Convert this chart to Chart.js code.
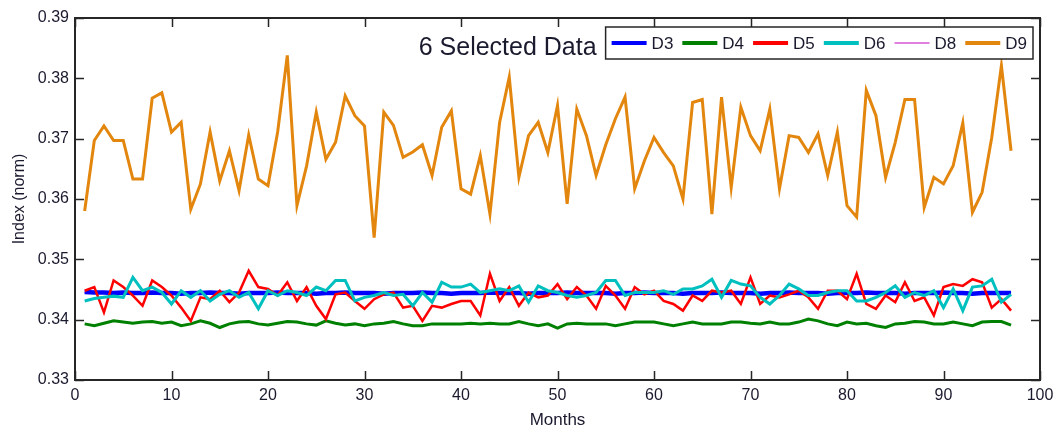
<!DOCTYPE html>
<html>
<head>
<meta charset="utf-8">
<title>6 Selected Data</title>
<script src="https://cdn.jsdelivr.net/npm/chart.js@4.4.1/dist/chart.umd.min.js"></script>
<style>
  html, body { margin: 0; padding: 0; background: #fff; }
  #wrap { width: 1054px; height: 429px; }
</style>
</head>
<body>
<div id="wrap"><canvas id="chart" width="1054" height="429"></canvas></div>
<script>
// Months on the x axis (1..97)
const months = Array.from({ length: 97 }, (_, i) => i + 1);

const xTicks = [0, 10, 20, 30, 40, 50, 60, 70, 80, 90, 100];
const yTicks = [0.33, 0.34, 0.35, 0.36, 0.37, 0.38, 0.39];

const seriesNames = ['D3', 'D4', 'D5', 'D6', 'D8', 'D9'];
const chartTitle = '6 Selected Data';

// Values
const d3 = [0.3446, 0.3445, 0.3445, 0.3444, 0.3445, 0.3444, 0.3444, 0.3445, 0.3444, 0.3444,
  0.3443, 0.3444, 0.3444, 0.3445, 0.3444, 0.3444, 0.3443, 0.3444, 0.3444, 0.3444,
  0.3445, 0.3444, 0.3444, 0.3444, 0.3443, 0.3444, 0.3444, 0.3445, 0.3444, 0.3444,
  0.3444, 0.3443, 0.3444, 0.3444, 0.3444, 0.3445, 0.3444, 0.3444, 0.3443, 0.3444,
  0.3444, 0.3444, 0.3445, 0.3444, 0.3444, 0.3444, 0.3443, 0.3444, 0.3444, 0.3444,
  0.3445, 0.3444, 0.3444, 0.3444, 0.3444, 0.3443, 0.3444, 0.3444, 0.3445, 0.3444,
  0.3444, 0.3444, 0.3443, 0.3444, 0.3444, 0.3444, 0.3445, 0.3444, 0.3444, 0.3444,
  0.3443, 0.3444, 0.3444, 0.3445, 0.3444, 0.3444, 0.3444, 0.3443, 0.3444, 0.3444,
  0.3444, 0.3445, 0.3444, 0.3444, 0.3444, 0.3443, 0.3444, 0.3444, 0.3444, 0.3445,
  0.3444, 0.3444, 0.3443, 0.3444, 0.3444, 0.3444, 0.3444];

const d4 = [0.3393, 0.3390, 0.3394, 0.3398, 0.3396, 0.3394, 0.3396, 0.3397, 0.3394, 0.3396,
  0.3390, 0.3393, 0.3398, 0.3394, 0.3387, 0.3393, 0.3396, 0.3397, 0.3393, 0.3391,
  0.3394, 0.3397, 0.3396, 0.3393, 0.3391, 0.3398, 0.3394, 0.3391, 0.3393, 0.3390,
  0.3393, 0.3394, 0.3397, 0.3393, 0.3390, 0.3390, 0.3393, 0.3393, 0.3393, 0.3393,
  0.3394, 0.3393, 0.3394, 0.3393, 0.3393, 0.3397, 0.3393, 0.3390, 0.3393, 0.3386,
  0.3393, 0.3394, 0.3393, 0.3393, 0.3393, 0.3390, 0.3393, 0.3396, 0.3396, 0.3396,
  0.3393, 0.3390, 0.3393, 0.3396, 0.3393, 0.3393, 0.3393, 0.3396, 0.3396, 0.3394,
  0.3393, 0.3396, 0.3393, 0.3393, 0.3396, 0.3401, 0.3398, 0.3393, 0.3390, 0.3396,
  0.3393, 0.3394, 0.3390, 0.3387, 0.3393, 0.3394, 0.3397, 0.3396, 0.3393, 0.3393,
  0.3396, 0.3393, 0.3390, 0.3396, 0.3397, 0.3397, 0.3391];

const d5 = [0.3448, 0.3454, 0.3412, 0.3465, 0.3454, 0.3440, 0.3423, 0.3465, 0.3454, 0.3440,
  0.3420, 0.3398, 0.3437, 0.3434, 0.3448, 0.3429, 0.3445, 0.3481, 0.3454, 0.3451,
  0.3440, 0.3462, 0.3431, 0.3454, 0.3423, 0.3401, 0.3442, 0.3445, 0.3431, 0.3418,
  0.3434, 0.3442, 0.3445, 0.3420, 0.3423, 0.3398, 0.3423, 0.3420, 0.3426, 0.3431,
  0.3431, 0.3407, 0.3476, 0.3431, 0.3454, 0.3423, 0.3445, 0.3437, 0.3440, 0.3459,
  0.3434, 0.3454, 0.3440, 0.3418, 0.3456, 0.3440, 0.3418, 0.3454, 0.3442, 0.3448,
  0.3431, 0.3426, 0.3415, 0.3440, 0.3431, 0.3448, 0.3445, 0.3448, 0.3426, 0.3470,
  0.3426, 0.3440, 0.3437, 0.3442, 0.3448, 0.3437, 0.3418, 0.3448, 0.3448, 0.3434,
  0.3476, 0.3426, 0.3418, 0.3440, 0.3429, 0.3462, 0.3431, 0.3437, 0.3407, 0.3454,
  0.3459, 0.3456, 0.3467, 0.3462, 0.3420, 0.3434, 0.3415];

const d6 = [0.3431, 0.3435, 0.3437, 0.3439, 0.3437, 0.3470, 0.3448, 0.3454, 0.3445, 0.3426,
  0.3448, 0.3437, 0.3448, 0.3431, 0.3442, 0.3448, 0.3437, 0.3445, 0.3418, 0.3448,
  0.3440, 0.3448, 0.3445, 0.3440, 0.3454, 0.3448, 0.3465, 0.3465, 0.3431, 0.3437,
  0.3440, 0.3445, 0.3440, 0.3442, 0.3423, 0.3445, 0.3429, 0.3462, 0.3454, 0.3454,
  0.3459, 0.3445, 0.3448, 0.3451, 0.3448, 0.3456, 0.3429, 0.3456, 0.3448, 0.3445,
  0.3440, 0.3437, 0.3440, 0.3445, 0.3465, 0.3465, 0.3440, 0.3445, 0.3445, 0.3445,
  0.3448, 0.3442, 0.3451, 0.3451, 0.3456, 0.3467, 0.3437, 0.3465, 0.3459, 0.3456,
  0.3437, 0.3426, 0.3440, 0.3459, 0.3451, 0.3440, 0.3440, 0.3445, 0.3448, 0.3448,
  0.3431, 0.3431, 0.3437, 0.3445, 0.3456, 0.3437, 0.3445, 0.3440, 0.3448, 0.3420,
  0.3451, 0.3415, 0.3454, 0.3456, 0.3467, 0.3429, 0.3442];

// D8 sits under D3 and is hidden by it
const d8 = [0.3445, 0.3445, 0.3444, 0.3444, 0.3445, 0.3444, 0.3444, 0.3444, 0.3444, 0.3444,
  0.3444, 0.3444, 0.3444, 0.3445, 0.3444, 0.3444, 0.3444, 0.3444, 0.3444, 0.3444,
  0.3444, 0.3444, 0.3444, 0.3444, 0.3444, 0.3444, 0.3444, 0.3444, 0.3444, 0.3444,
  0.3444, 0.3444, 0.3444, 0.3444, 0.3444, 0.3444, 0.3444, 0.3444, 0.3444, 0.3444,
  0.3444, 0.3444, 0.3444, 0.3444, 0.3444, 0.3444, 0.3444, 0.3444, 0.3444, 0.3444,
  0.3444, 0.3444, 0.3444, 0.3444, 0.3444, 0.3444, 0.3444, 0.3444, 0.3444, 0.3444,
  0.3444, 0.3444, 0.3444, 0.3444, 0.3444, 0.3444, 0.3444, 0.3444, 0.3444, 0.3444,
  0.3444, 0.3444, 0.3444, 0.3444, 0.3444, 0.3444, 0.3444, 0.3444, 0.3444, 0.3444,
  0.3444, 0.3444, 0.3444, 0.3444, 0.3444, 0.3444, 0.3444, 0.3444, 0.3444, 0.3444,
  0.3444, 0.3444, 0.3444, 0.3444, 0.3444, 0.3444, 0.3444];

const d9 = [0.3580, 0.3697, 0.3721, 0.3697, 0.3697, 0.3633, 0.3633, 0.3767, 0.3776, 0.3711,
  0.3727, 0.3583, 0.3625, 0.3711, 0.3630, 0.3680, 0.3614, 0.3706, 0.3633, 0.3622,
  0.3711, 0.3838, 0.3589, 0.3655, 0.3744, 0.3666, 0.3694, 0.3771, 0.3738, 0.3721,
  0.3536, 0.3744, 0.3722, 0.3669, 0.3678, 0.3690, 0.3639, 0.3719, 0.3746, 0.3617,
  0.3608, 0.3672, 0.3575, 0.3727, 0.3802, 0.3636, 0.3705, 0.3727, 0.3677, 0.3755,
  0.3592, 0.3749, 0.3705, 0.3639, 0.3690, 0.3733, 0.3769, 0.3617, 0.3663, 0.3702,
  0.3677, 0.3655, 0.3600, 0.3760, 0.3765, 0.3575, 0.3769, 0.3619, 0.3752, 0.3705,
  0.3680, 0.3749, 0.3617, 0.3705, 0.3702, 0.3677, 0.3708, 0.3639, 0.3711, 0.3589,
  0.3570, 0.3780, 0.3738, 0.3636, 0.3694, 0.3765, 0.3765, 0.3586, 0.3636, 0.3625,
  0.3655, 0.3726, 0.3578, 0.3611, 0.3702, 0.3821, 0.3680];

const FONT = "'Liberation Sans', Arial, sans-serif";

function toPoints(values) {
  return values.map((v, i) => ({ x: months[i], y: v }));
}

// line styles, same order as seriesNames
const styles = [
  { color: '#0000ff', width: 4.5, order: 4 },
  { color: '#008000', width: 3, order: 3 },
  { color: '#ff0000', width: 2.5, order: 2 },
  { color: '#00bfbf', width: 3, order: 1 },
  { color: '#bf00bf', width: 1, order: 5 },
  { color: '#e3860e', width: 3, order: 0 }
];
const allSeries = [d3, d4, d5, d6, d8, d9];

const datasets = allSeries.map((values, i) => ({
  label: seriesNames[i],
  data: toPoints(values),
  borderColor: styles[i].color,
  backgroundColor: styles[i].color,
  borderWidth: styles[i].width,
  order: styles[i].order,
  pointRadius: 0,
  tension: 0,
  fill: false
}));

/**
 * Box round the plot and MATLAB style inward ticks on all four sides
 */
const axesBox = {
  id: 'axesBox',
  afterDatasetsDraw(chart) {
    const { ctx, chartArea: a, scales } = chart;
    const len = 9;
    ctx.save();
    ctx.strokeStyle = '#262626';
    ctx.lineWidth = 1.5;
    ctx.beginPath();
    xTicks.forEach(t => {
      const px = Math.round(scales.x.getPixelForValue(t)) + 0.5;
      ctx.moveTo(px, a.bottom); ctx.lineTo(px, a.bottom - len);
      ctx.moveTo(px, a.top); ctx.lineTo(px, a.top + len);
    });
    yTicks.forEach(t => {
      const py = Math.round(scales.y.getPixelForValue(t)) + 0.5;
      ctx.moveTo(a.left, py); ctx.lineTo(a.left + len, py);
      ctx.moveTo(a.right, py); ctx.lineTo(a.right - len, py);
    });
    ctx.stroke();
    ctx.lineWidth = 2;
    ctx.strokeRect(a.left, a.top, a.right - a.left, a.bottom - a.top);
    ctx.restore();
  }
};

/**
 * Legend box in the top right corner, with the title to its left
 */
const boxLegend = {
  id: 'boxLegend',
  afterDraw(chart) {
    const { ctx, chartArea: a } = chart;
    const top = a.top + 9, h = 32, right = a.right - 7;
    const lineLen = 35, gap = 5, itemGap = 9, pad = 6;
    ctx.save();
    ctx.font = '17px ' + FONT;
    const widths = chart.data.datasets.map(ds => ctx.measureText(ds.label).width);
    let total = pad * 2;
    widths.forEach((w, i) => { total += lineLen + gap + w + (i < widths.length - 1 ? itemGap : 0); });
    const left = right - total;

    ctx.fillStyle = '#fff';
    ctx.fillRect(left, top, total, h);
    ctx.strokeStyle = '#262626';
    ctx.lineWidth = 1.5;
    ctx.strokeRect(left, top, total, h);

    const cy = top + h / 2;
    let x = left + pad;
    chart.data.datasets.forEach((ds, i) => {
      ctx.strokeStyle = ds.borderColor;
      ctx.lineWidth = ds.borderWidth > 1 ? 4 : 1;
      ctx.beginPath();
      ctx.moveTo(x, cy); ctx.lineTo(x + lineLen, cy);
      ctx.stroke();
      x += lineLen + gap;
      ctx.fillStyle = '#1a1a2e';
      ctx.textAlign = 'left';
      ctx.textBaseline = 'middle';
      ctx.fillText(ds.label, x, cy + 1);
      x += widths[i] + itemGap;
    });

    ctx.font = '25px ' + FONT;
    ctx.fillStyle = '#1a1a2e';
    ctx.textAlign = 'right';
    ctx.textBaseline = 'alphabetic';
    ctx.fillText(chartTitle, left - 9, top + 28);
    ctx.restore();
  }
};

const ctx = document.getElementById('chart').getContext('2d');
new Chart(ctx, {
  type: 'line',
  data: { datasets: datasets },
  plugins: [axesBox, boxLegend],
  options: {
    responsive: false,
    animation: false,
    events: [],
    layout: { padding: { top: 18, right: 14, left: 0, bottom: 0 } },
    plugins: {
      legend: { display: false },
      tooltip: { enabled: false }
    },
    scales: {
      x: {
        type: 'linear',
        min: 0,
        max: 100,
        afterFit(scale) {
          scale.height = 49;
          scale.paddingLeft = 0;
          scale.paddingRight = 0;
        },
        afterBuildTicks(scale) { scale.ticks = xTicks.map(v => ({ value: v })); },
        grid: { display: false, drawTicks: false },
        border: { display: false },
        ticks: { padding: 6, color: '#1a1a2e', font: { family: FONT, size: 16 }, maxRotation: 0 },
        title: { display: true, text: 'Months', color: '#1a1a2e', font: { family: FONT, size: 17 }, padding: { top: 0, bottom: -2 } }
      },
      y: {
        min: 0.33,
        max: 0.39,
        afterFit(scale) { scale.width = 75; },
        afterBuildTicks(scale) { scale.ticks = yTicks.map(v => ({ value: v })); },
        grid: { display: false, drawTicks: false },
        border: { display: false },
        ticks: {
          padding: 6,
          color: '#1a1a2e',
          font: { family: FONT, size: 16 },
          callback: v => v.toFixed(2)
        },
        title: { display: true, text: 'Index (norm)', color: '#1a1a2e', font: { family: FONT, size: 16 }, padding: { top: 10, bottom: 0 } }
      }
    }
  }
});
</script>
</body>
</html>
